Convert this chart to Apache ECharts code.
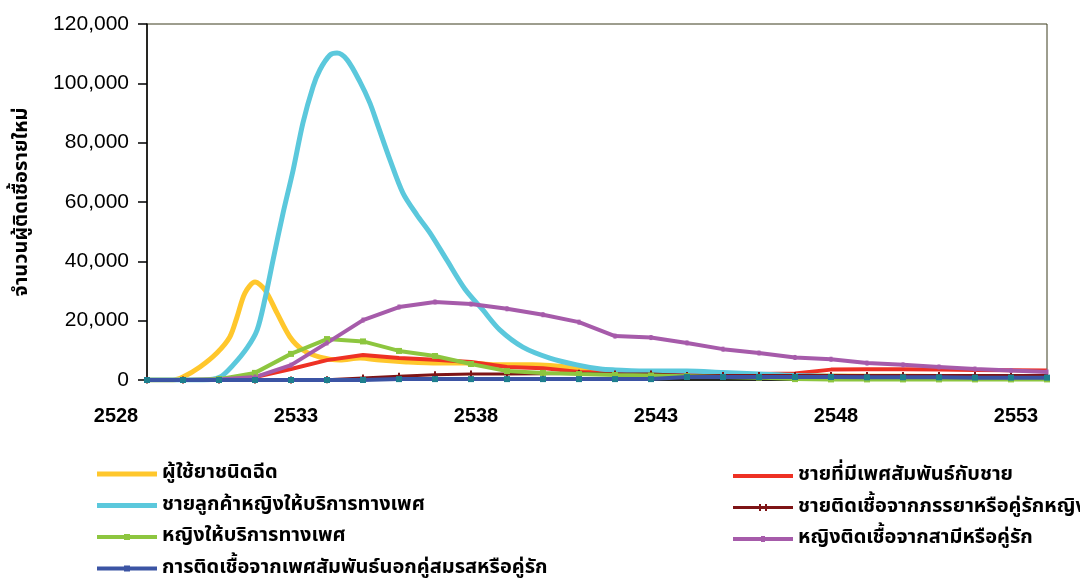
<!DOCTYPE html>
<html>
<head>
<meta charset="utf-8">
<script src="https://cdn.jsdelivr.net/npm/echarts@6/dist/echarts.min.js"></script>
<style>
html,body{margin:0;padding:0;background:#fff;}
#chart{width:1080px;height:580px;}
</style>
</head>
<body>
<div id="chart"></div>
<script>
// ---- data ----
const years = [2528,2529,2530,2531,2532,2533,2534,2535,2536,2537,2538,2539,2540,2541,2542,2543,2544,2545,2546,2547,2548,2549,2550,2551,2552,2553];
const xTickLabels = [2528, 2533, 2538, 2543, 2548, 2553];

// series with sub-year points (smooth curves)
const idDrugX   = [2528,2528.72,2529,2529.47,2529.94,2530.3,2530.5,2530.72,2531,2531.28,2531.61,2531.97,2532.33,2532.8,2533.36,2533.92,2534.47,2535.2,2536.1,2536.9,2537.8,2538.7,2539.94,2541,2542,2544,2546,2548,2550,2553];
const idDrugVal = [0,0,1000,4400,9100,14500,21200,29300,33000,30300,22600,14500,10100,7700,6700,7400,6700,6100,5700,5700,5100,5100,4000,2200,1600,1500,1400,1300,1200,1000];

const clientX   = [2528,2529.56,2530.03,2530.39,2530.78,2531.06,2531.28,2531.5,2531.78,2532.06,2532.33,2532.61,2532.8,2533.08,2533.28,2533.56,2533.92,2534.19,2534.39,2534.75,2535.11,2535.5,2535.86,2536.33,2536.83,2537.33,2537.8,2538.44,2539.19,2539.94,2540.6,2541,2542,2543,2544,2545,2546,2547,2548,2549,2550,2551,2552,2553];
const clientVal = [0,0,1000,5000,10800,16900,27500,40400,56300,70800,86600,98800,104500,109500,110200,107900,100400,93400,86600,74200,63000,55600,49600,40400,30700,23600,16900,11100,7400,5100,3700,3400,3000,3000,2500,2000,1500,1300,1000,700,500,500,500,500];

// yearly series
const msm       = [0,0,0,1000,3700,6700,8400,7400,6800,6100,4400,4000,2700,2400,2000,2000,2000,2000,2200,3500,3600,3600,3500,3400,3300,3200];
const maleWife  = [0,0,0,0,0,100,700,1300,1800,2000,2000,2100,2300,2000,2000,1500,1500,1500,1500,1500,1500,1500,1500,1500,1500,1500];
const sexWorker = [0,0,300,2400,8800,13800,13000,9800,8100,5400,3000,2400,2000,1700,1500,1300,1000,800,300,200,200,200,200,200,200,200];
const femaleHus = [0,0,200,1000,5000,12500,20200,24600,26300,25600,24000,22000,19500,14800,14300,12500,10400,9100,7600,7000,5700,5100,4400,3700,3200,2700];
const extraMar  = [0,0,0,0,0,0,0,300,300,300,300,300,300,300,300,1000,1000,1000,1000,1000,900,900,900,800,800,800];

const names = {
  idu: 'ผู้ใช้ยาชนิดฉีด',
  msm: 'ชายที่มีเพศสัมพันธ์กับชาย',
  client: 'ชายลูกค้าหญิงให้บริการทางเพศ',
  maleWife: 'ชายติดเชื้อจากภรรยาหรือคู่รักหญิง',
  sw: 'หญิงให้บริการทางเพศ',
  femHus: 'หญิงติดเชื้อจากสามีหรือคู่รัก',
  extra: 'การติดเชื้อจากเพศสัมพันธ์นอกคู่สมรสหรือคู่รัก'
};
const yTitle = 'จำนวนผู้ติดเชื้อรายใหม่';

const zip = (xs, vs) => xs.map((x, i) => [x, vs[i]]);
const thaiFont = "'Noto Sans Thai','Noto Sans','DejaVu Sans',sans-serif";

// legend icons (line with optional small marker)
const ICON_THICK = 'path://M0,0h60v5h-60z';
const ICON_LINE  = 'path://M0,0h60v4h-60z';
const ICON_SQ    = 'path://M0,1h60v4h-60z M27,0h6v6h-6z';
const ICON_TICKS = 'path://M0,2h60v3h-60z M26,0h2v7h-2z M32,0h2v7h-2z';
const ICON_DASH  = 'path://M0,1h60v4h-60z M28,0h4v6h-4z';

const chart = echarts.init(document.getElementById('chart'));
const legendText = {fontSize: 20, fontWeight: 'bold', color: '#000', fontFamily: thaiFont, lineHeight: 22};
const option = {
  animation: false,
  backgroundColor: '#ffffff',
  grid: [
    {left: 147, top: 24, width: 900, height: 356, show: true, borderColor: '#3d3d1f', borderWidth: 1, backgroundColor: 'transparent'},
    {left: 116, top: 24, width: 900, height: 356, show: false}
  ],
  xAxis: [
    {type: 'value', gridIndex: 0, min: 2528, max: 2553,
     axisLine: {show: true, lineStyle: {color: '#000', width: 1.5}},
     axisTick: {show: false}, axisLabel: {show: false}, splitLine: {show: false}},
    {type: 'value', gridIndex: 1, min: 2528, max: 2553, interval: 5,
     axisLine: {show: false}, axisTick: {show: false}, splitLine: {show: false},
     axisLabel: {show: true, margin: 26, fontSize: 20, fontWeight: 'bold', color: '#000',
       fontFamily: 'Liberation Sans, Arial, sans-serif', formatter: v => String(v)}}
  ],
  yAxis: [
    {type: 'value', gridIndex: 0, min: 0, max: 120000, interval: 20000,
     axisLine: {show: true, lineStyle: {color: '#000', width: 1.5}},
     axisTick: {show: true, inside: false, length: 9, lineStyle: {color: '#000', width: 1.5}},
     splitLine: {show: false},
     axisLabel: {margin: 18, fontSize: 21, color: '#000', fontFamily: 'Liberation Sans, Arial, sans-serif',
       formatter: v => v.toLocaleString('en-US')}},
    {type: 'value', gridIndex: 1, min: 0, max: 1,
     axisLine: {show: false}, axisTick: {show: false}, axisLabel: {show: false}, splitLine: {show: false},
     name: yTitle, nameLocation: 'middle', nameRotate: 90, nameGap: 83,
     nameTextStyle: {fontSize: 20, fontWeight: 'bold', color: '#000', fontFamily: thaiFont}}
  ],
  legend: [
    {orient: 'vertical', left: 97, top: 463, padding: 0, itemWidth: 60, itemHeight: 12, itemGap: 9.5,
     symbolKeepAspect: true, textStyle: legendText,
     data: [{name: names.idu, icon: ICON_THICK}, {name: names.client, icon: ICON_THICK},
            {name: names.sw, icon: ICON_SQ},
            {name: names.extra, icon: ICON_SQ, itemStyle: {color: '#3B54A4'}}]},
    {orient: 'vertical', left: 733, top: 465, padding: 0, itemWidth: 60, itemHeight: 12, itemGap: 9.5,
     symbolKeepAspect: true, textStyle: legendText,
     data: [{name: names.msm, icon: ICON_LINE}, {name: names.maleWife, icon: ICON_TICKS},
            {name: names.femHus, icon: ICON_DASH}]}
  ],
  series: [
    {name: names.idu, type: 'line', xAxisIndex: 0, yAxisIndex: 0, symbol: 'none', smooth: 0.3,
     data: zip(idDrugX, idDrugVal), lineStyle: {color: '#FFC72C', width: 5}, itemStyle: {color: '#FFC72C'}},
    {name: names.msm, type: 'line', symbol: 'none',
     data: zip(years, msm), lineStyle: {color: '#EE3124', width: 4}, itemStyle: {color: '#EE3124'}},
    {name: names.client, type: 'line', symbol: 'none', smooth: 0.3,
     data: zip(clientX, clientVal), lineStyle: {color: '#5BC8DC', width: 5}, itemStyle: {color: '#5BC8DC'}},
    {name: names.maleWife, type: 'line', symbol: 'rect', symbolSize: [2, 7],
     data: zip(years, maleWife), lineStyle: {color: '#7E1416', width: 3}, itemStyle: {color: '#7E1416'}},
    {name: names.sw, type: 'line', symbol: 'rect', symbolSize: 6,
     data: zip(years, sexWorker), lineStyle: {color: '#8DC63F', width: 4}, itemStyle: {color: '#8DC63F'}},
    {name: names.femHus, type: 'line', symbol: 'rect', symbolSize: [3, 5],
     data: zip(years, femaleHus), lineStyle: {color: '#A65BAA', width: 4}, itemStyle: {color: '#A65BAA'}},
    {name: names.extra, type: 'line', symbol: 'rect', symbolSize: 6,
     data: zip(years, extraMar), lineStyle: {color: '#3B54A4', width: 4}, itemStyle: {color: '#1E7F8E'}}
  ]
};
chart.setOption(option);
</script>
</body>
</html>
